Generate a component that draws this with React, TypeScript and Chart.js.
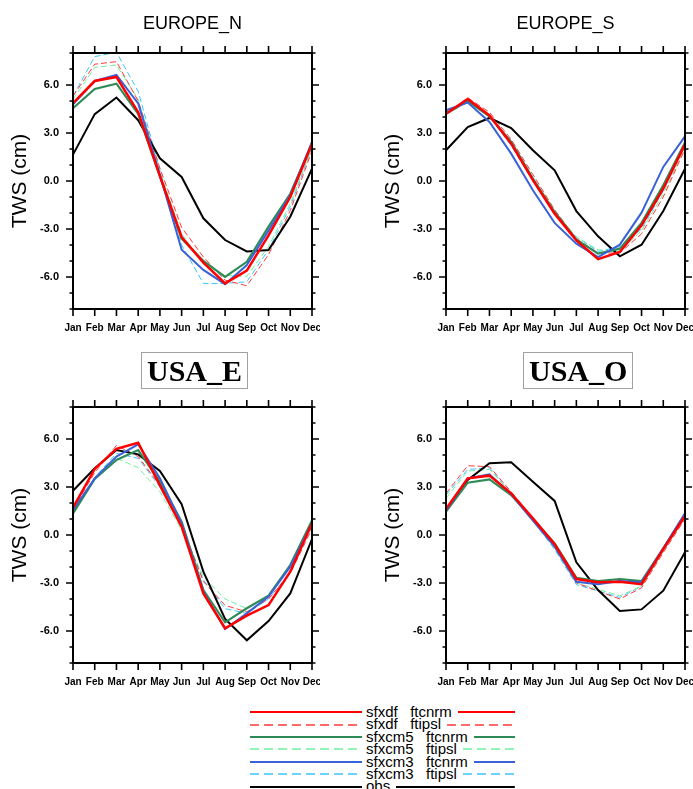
import React, { useEffect, useRef } from "react";
import { Chart, registerables } from "chart.js";

Chart.register(...registerables);

// ---------- axis definitions ----------
const MONTHS = ["Jan", "Feb", "Mar", "Apr", "May", "Jun", "Jul", "Aug", "Sep", "Oct", "Nov", "Dec"];
const Y_TICKS = [-6, -3, 0, 3, 6];
const Y_TICK_LABELS = ["-6.0", "-3.0", "0.0", "3.0", "6.0"];
const Y_MIN = -8;
const Y_MAX = 8;
const Y_MINOR_STEP = 1;
const Y_TITLE = "TWS (cm)";

// ---------- EUROPE_N ----------
const EN_DF_CN = [4.87, 6.25, 6.5, 4.3, 0.3, -3.5, -5.1, -6.4, -5.6, -3.4, -1.0, 2.33];
const EN_DF_IP = [5.3, 7.3, 7.46, 5.0, 0.8, -2.9, -4.75, -6.2, -6.55, -4.6, -1.85, 1.9];
const EN_CM5_CN = [4.55, 5.75, 6.08, 4.2, 0.3, -3.6, -5.0, -6.0, -5.05, -2.85, -0.8, 2.33];
const EN_CM5_IP = [5.1, 7.1, 7.25, 5.1, 0.6, -3.3, -5.2, -5.9, -5.96, -4.1, -1.4, 2.1];
const EN_CM3_CN = [4.8, 6.25, 6.63, 4.85, 0.4, -4.3, -5.56, -6.45, -5.25, -3.1, -0.9, 2.44];
const EN_CM3_IP = [5.3, 7.77, 8.05, 5.6, 0.7, -4.0, -6.4, -6.4, -6.3, -4.3, -1.6, 2.1];
const EN_OBS = [1.65, 4.18, 5.22, 3.8, 1.42, 0.25, -2.33, -3.69, -4.4, -4.31, -2.23, 0.77];

// ---------- EUROPE_S ----------
const ES_DF_CN = [4.2, 5.12, 4.1, 2.33, 0.05, -2.04, -3.71, -4.88, -4.44, -2.77, -0.48, 2.29];
const ES_DF_IP = [4.2, 5.2, 4.3, 2.6, 0.4, -1.8, -3.6, -4.5, -4.5, -3.3, -1.0, 2.0];
const ES_CM5_CN = [4.2, 5.0, 4.04, 2.44, 0.15, -1.94, -3.67, -4.54, -4.23, -2.62, -0.27, 2.4];
const ES_CM5_IP = [4.2, 5.0, 4.1, 2.4, 0.2, -1.9, -3.5, -4.3, -4.4, -3.1, -0.8, 2.1];
const ES_CM3_CN = [4.42, 4.9, 3.69, 1.71, -0.58, -2.62, -3.92, -4.75, -3.98, -1.98, 0.88, 2.79];
const ES_CM3_IP = [4.3, 5.0, 4.0, 2.2, 0.0, -2.1, -3.5, -4.4, -4.1, -3.0, -0.6, 2.2];
const ES_OBS = [1.92, 3.37, 3.94, 3.31, 1.92, 0.67, -1.88, -3.46, -4.71, -3.98, -1.88, 0.77];

// ---------- USA_E ----------
const UE_DF_CN = [1.71, 4.13, 5.38, 5.77, 3.1, 0.52, -3.65, -5.83, -5.04, -4.38, -2.29, 0.73];
const UE_DF_IP = [1.6, 3.9, 5.6, 4.9, 3.1, 0.6, -2.9, -4.4, -4.8, -4.0, -2.4, 0.4];
const UE_CM5_CN = [1.35, 3.5, 4.69, 5.31, 3.33, 0.83, -3.44, -5.46, -4.58, -3.79, -1.88, 0.9];
const UE_CM5_IP = [1.3, 3.5, 4.8, 4.2, 2.7, 0.3, -2.6, -4.0, -4.6, -3.8, -2.0, 0.7];
const UE_CM3_CN = [1.56, 3.54, 4.9, 5.67, 3.54, 0.73, -3.54, -5.88, -4.9, -3.85, -1.98, 0.73];
const UE_CM3_IP = [1.5, 3.6, 5.1, 4.8, 3.0, 0.5, -2.8, -4.6, -4.9, -4.0, -2.3, 0.5];
const UE_OBS = [2.77, 4.17, 5.31, 5.04, 4.0, 1.92, -2.29, -5.25, -6.58, -5.38, -3.65, -0.25];

// ---------- USA_O ----------
const UO_DF_CN = [1.63, 3.54, 3.71, 2.6, 1.04, -0.58, -2.75, -2.96, -2.92, -3.08, -0.88, 1.19];
const UO_DF_IP = [2.6, 4.33, 4.27, 2.7, 1.0, -0.7, -3.0, -3.5, -4.0, -3.3, -1.1, 1.0];
const UO_CM5_CN = [1.46, 3.27, 3.48, 2.5, 1.0, -0.52, -2.67, -2.88, -2.75, -2.88, -0.83, 1.29];
const UO_CM5_IP = [2.3, 4.0, 4.1, 2.6, 0.9, -0.8, -3.0, -3.4, -3.8, -3.2, -1.0, 1.1];
const UO_CM3_CN = [1.52, 3.54, 3.79, 2.54, 0.9, -0.73, -2.92, -3.08, -2.88, -2.96, -0.83, 1.35];
const UO_CM3_IP = [2.5, 4.1, 4.2, 2.6, 0.9, -0.9, -3.1, -3.5, -3.9, -3.2, -1.0, 1.1];
const UO_OBS = [1.56, 3.44, 4.48, 4.54, 3.33, 2.13, -1.71, -3.44, -4.75, -4.65, -3.48, -1.08];

// ---------- series styles (legend order) ----------
const SERIES_LABELS = [
  "sfxdf   ftcnrm",
  "sfxdf   ftipsl",
  "sfxcm5   ftcnrm",
  "sfxcm5   ftipsl",
  "sfxcm3   ftcnrm",
  "sfxcm3   ftipsl",
  "obs",
];
const SERIES_COLORS = ["#ff0000", "#ff3b3b", "#2e8b57", "#6ff0a0", "#3a62d8", "#3cc4ff", "#000000"];
const SERIES_WIDTHS = [2.5, 1, 2.2, 1, 2, 1, 2];
const SERIES_DASHED = [false, true, false, true, false, true, false];
// drawing priority: first listed ends on top
const DRAW_ORDER = [0, 4, 2, 6, 1, 3, 5];

const PANELS = [
  { title: "EUROPE_N", boxed: false, left: 0, top: 0, boxLeft: 0, data: [EN_DF_CN, EN_DF_IP, EN_CM5_CN, EN_CM5_IP, EN_CM3_CN, EN_CM3_IP, EN_OBS] },
  { title: "EUROPE_S", boxed: false, left: 373, top: 0, boxLeft: 0, data: [ES_DF_CN, ES_DF_IP, ES_CM5_CN, ES_CM5_IP, ES_CM3_CN, ES_CM3_IP, ES_OBS] },
  { title: "USA_E", boxed: true, left: 0, top: 354, boxLeft: 141, data: [UE_DF_CN, UE_DF_IP, UE_CM5_CN, UE_CM5_IP, UE_CM3_CN, UE_CM3_IP, UE_OBS] },
  { title: "USA_O", boxed: true, left: 373, top: 354, boxLeft: 150, data: [UO_DF_CN, UO_DF_IP, UO_CM5_CN, UO_CM5_IP, UO_CM3_CN, UO_CM3_IP, UO_OBS] },
];

const SANS = "'Liberation Sans', Arial, Helvetica, sans-serif";
const SERIF = "'Liberation Serif', 'Times New Roman', serif";
const CANVAS_W = 320;
const CANVAS_H = 340;
const MAJOR_LEN = 7;
const MINOR_LEN = 3.5;

const framePlugin = {
  id: "ncalFrame",
  afterDatasetsDraw(chart: any) {
    const { ctx, chartArea: a, scales } = chart;
    const xs = scales.x;
    const ys = scales.y;
    ctx.save();
    ctx.strokeStyle = "#000";
    ctx.lineWidth = 2;
    ctx.strokeRect(a.left, a.top, a.right - a.left, a.bottom - a.top);
    ctx.lineWidth = 1.6;
    ctx.beginPath();
    MONTHS.forEach((_, i) => {
      const px = xs.getPixelForValue(i);
      ctx.moveTo(px, a.bottom);
      ctx.lineTo(px, a.bottom + MAJOR_LEN);
      ctx.moveTo(px, a.top);
      ctx.lineTo(px, a.top - MAJOR_LEN);
    });
    for (let v = Y_MIN; v <= Y_MAX; v += Y_MINOR_STEP) {
      const len = Y_TICKS.includes(v) ? MAJOR_LEN : MINOR_LEN;
      const py = ys.getPixelForValue(v);
      ctx.moveTo(a.left, py);
      ctx.lineTo(a.left - len, py);
      ctx.moveTo(a.right, py);
      ctx.lineTo(a.right + len, py);
    }
    ctx.stroke();
    ctx.restore();
  },
};

function Panel({ panel }: { panel: any }) {
  const ref = useRef<HTMLCanvasElement | null>(null);
  useEffect(() => {
    if (!ref.current) return;
    const datasets = DRAW_ORDER.map((i) => ({
      label: SERIES_LABELS[i],
      data: panel.data[i],
      borderColor: SERIES_COLORS[i],
      backgroundColor: SERIES_COLORS[i],
      borderWidth: SERIES_WIDTHS[i],
      borderDash: SERIES_DASHED[i] ? [6, 3] : [],
      pointRadius: 0,
      tension: 0,
      fill: false,
    }));
    const chart = new Chart(ref.current, {
      type: "line",
      data: { labels: MONTHS, datasets },
      options: {
        animation: false,
        responsive: false,
        maintainAspectRatio: false,
        events: [],
        layout: { padding: { top: 53, right: 8, left: 0, bottom: 0 } },
        plugins: { legend: { display: false }, tooltip: { enabled: false }, title: { display: false } },
        scales: {
          x: {
            type: "category",
            offset: false,
            grid: { display: false, drawTicks: false },
            border: { display: false },
            ticks: {
              color: "#000",
              font: { family: SANS, size: 10, weight: "bold" },
              padding: 13,
              maxRotation: 0,
              autoSkip: false,
            },
            afterFit: (s: any) => {
              s.height = 31;
              s.paddingLeft = 0;
              s.paddingRight = 0;
            },
          },
          y: {
            type: "linear",
            min: Y_MIN,
            max: Y_MAX,
            grid: { display: false, drawTicks: false },
            border: { display: false },
            afterBuildTicks: (s: any) => {
              s.ticks = Y_TICKS.map((v) => ({ value: v }));
            },
            ticks: {
              color: "#000",
              font: { family: SANS, size: 11, weight: "bold" },
              padding: 14,
              callback: (v: any) => Y_TICK_LABELS[Y_TICKS.indexOf(Number(v))],
            },
            title: {
              display: true,
              text: Y_TITLE,
              color: "#000",
              font: { family: SANS, size: 21 },
              padding: { top: 8, bottom: 0 },
            },
            afterFit: (s: any) => {
              s.width = 73;
              s.paddingTop = 0;
              s.paddingBottom = 0;
            },
          },
        },
      },
      plugins: [framePlugin],
    });
    return () => chart.destroy();
  }, [panel]);

  return (
    <>
      <canvas
        ref={ref}
        width={CANVAS_W}
        height={CANVAS_H}
        style={{ position: "absolute", left: panel.left, top: panel.top, width: CANVAS_W, height: CANVAS_H }}
      />
      {panel.boxed ? (
        <div
          style={{
            position: "absolute",
            left: panel.left + panel.boxLeft,
            top: panel.top - 2,
            border: "1px solid #a0a0a0",
            padding: "0 5px",
            font: `bold 30px ${SERIF}`,
            lineHeight: "35px",
            color: "#000",
            whiteSpace: "nowrap",
          }}
        >
          {panel.title}
        </div>
      ) : (
        <div
          style={{
            position: "absolute",
            left: panel.left + 73,
            width: 239,
            top: panel.top + 12,
            textAlign: "center",
            font: `18px ${SANS}`,
            lineHeight: "22px",
            color: "#000",
            whiteSpace: "nowrap",
          }}
        >
          {panel.title}
        </div>
      )}
    </>
  );
}

function LegendLine({ i, fixed }: { i: number; fixed?: number }) {
  return (
    <div style={fixed ? { width: fixed, flex: "none", height: 6 } : { flex: "1 1 0", minWidth: 0, height: 6 }}>
      <svg width="100%" height={6} style={{ display: "block" }}>
        <line
          x1="0"
          x2="100%"
          y1={3}
          y2={3}
          stroke={SERIES_COLORS[i]}
          strokeWidth={SERIES_DASHED[i] ? 1.5 : 2}
          strokeDasharray={SERIES_DASHED[i] ? "9 5" : undefined}
        />
      </svg>
    </div>
  );
}

function Legend() {
  return (
    <div style={{ position: "absolute", left: 250, top: 706, width: 265 }}>
      {SERIES_LABELS.map((lab, i) => (
        <div key={i} style={{ display: "flex", alignItems: "center", width: 265, height: 12.4, overflow: "visible" }}>
          <LegendLine i={i} fixed={112} />
          <span
            style={{
              font: `15px ${SANS}`,
              lineHeight: "12.4px",
              whiteSpace: "pre",
              marginLeft: 4,
              marginRight: 6,
              color: "#000",
              flex: "none",
            }}
          >
            {lab}
          </span>
          <LegendLine i={i} />
        </div>
      ))}
    </div>
  );
}

export default function App() {
  return (
    <div style={{ position: "absolute", left: 0, top: 0, width: 693, height: 789, background: "#fff", overflow: "hidden" }}>
      {PANELS.map((p) => (
        <Panel key={p.title} panel={p} />
      ))}
      <Legend />
    </div>
  );
}
